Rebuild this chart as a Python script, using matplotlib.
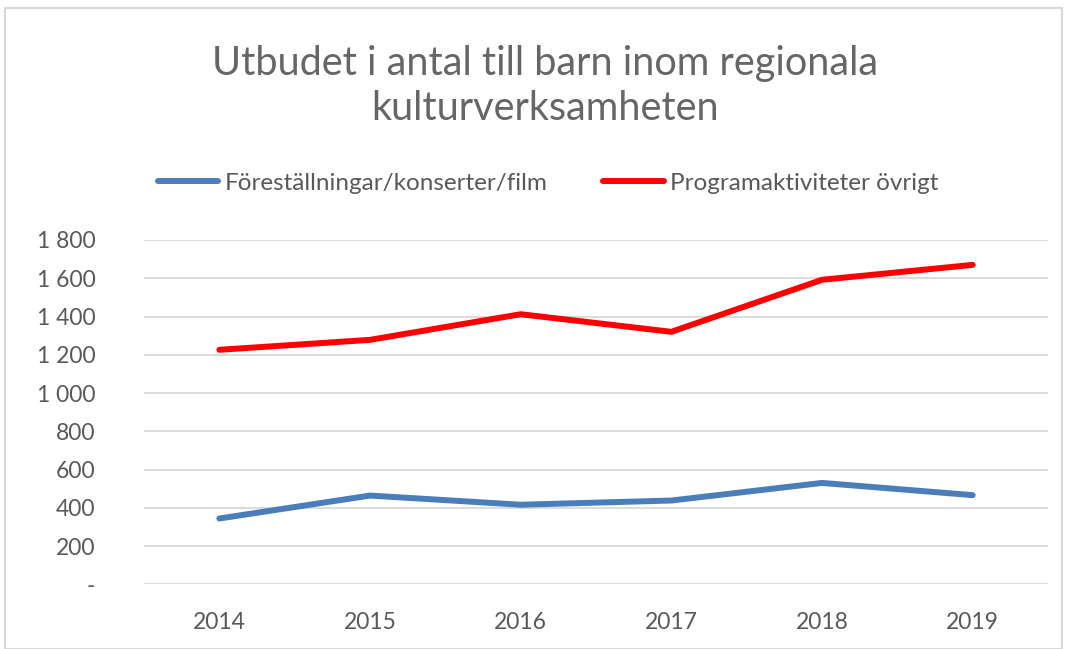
import matplotlib.pyplot as plt
from matplotlib.patches import Rectangle
from matplotlib.ticker import FuncFormatter

years = ['2014', '2015', '2016', '2017', '2018', '2019']
forestallningar = [344, 464, 416, 438, 530, 466]
programaktiviteter = [1226, 1278, 1412, 1320, 1592, 1670]

label_blue = 'Föreställningar/konserter/film'
label_red = 'Programaktiviteter övrigt'
title = 'Utbudet i antal till barn inom regionala\nkulturverksamheten'

plt.rcParams['font.family'] = ['Lato', 'DejaVu Sans']
text_col = '#595959'

fig = plt.figure(figsize=(10.70, 6.49), dpi=100)
W, H = 1070, 649

# chart frame
fig.patches.append(Rectangle((5 / W, 0), 1057 / W, 1 - 8 / H, transform=fig.transFigure,
                             fill=False, edgecolor='#d9d9d9', linewidth=1.5))

ax = fig.add_axes([144 / W, 1 - 584.3 / H, (1048 - 144) / W, (584.3 - 240) / H])

x = range(len(years))
ax.plot(x, forestallningar, color='#4a7ebb', linewidth=4.3, solid_capstyle='round',
        label=label_blue, zorder=3)
ax.plot(x, programaktiviteter, color='#ff0000', linewidth=4.3, solid_capstyle='round',
        label=label_red, zorder=3)

ax.set_xlim(-0.5, len(years) - 0.5)
ax.set_ylim(0, 1800)
ax.set_yticks(range(0, 1801, 200))
ax.set_xticks(list(x))
ax.set_xticklabels(years)


def fmt(v, pos):
    if v == 0:
        return '-'
    return f'{int(v):,}'.replace(',', ' ')


ax.yaxis.set_major_formatter(FuncFormatter(fmt))
ax.grid(axis='y', color='#d9d9d9', linewidth=1.3)
ax.set_axisbelow(True)
for s in ax.spines.values():
    s.set_visible(False)
ax.tick_params(length=0, labelsize=16.5, colors=text_col)
ax.tick_params(axis='y', pad=35)
ax.tick_params(axis='x', pad=20)

fig.text(545 / W, 1 - 86 / H, title, ha='center', va='center', fontsize=28.5,
         color='#666666', linespacing=1.27)

leg = fig.legend(loc='center', bbox_to_anchor=(548 / W, 1 - 183 / H), ncol=2,
                 frameon=False, fontsize=17.5, handlelength=2.5, handletextpad=0.25,
                 columnspacing=2.3, labelcolor=text_col)

fig.savefig('out.png', dpi=100)
